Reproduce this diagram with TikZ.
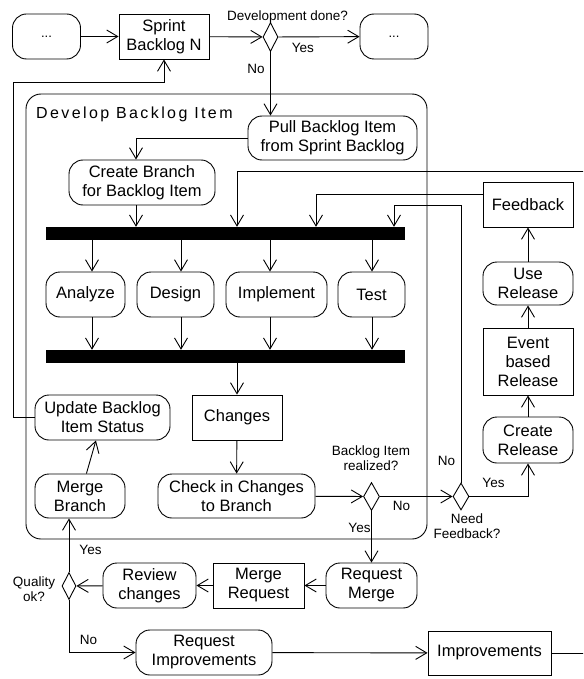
\documentclass[tikz,border=0pt]{standalone}
\usepackage{fontspec}
\setmainfont{Liberation Sans}
\newfontfamily\titlefont[LetterSpace=15]{Liberation Sans}
\usetikzlibrary{arrows.meta,shapes.geometric,calc}

\tikzset{
  box/.style={draw, line width=0.9pt, inner sep=0pt, align=center,
    font=\fontsize{16.5}{19}\selectfont},
  act/.style={box, rounded corners=14pt},
  dec/.style={draw, diamond, inner sep=0pt, line width=0.9pt},
  bar/.style={fill=black, draw=none, inner sep=0pt},
  lbl/.style={inner sep=0pt, align=center, font=\fontsize{13.5}{15}\selectfont},
  arr/.style={line width=0.9pt, -{Straight Barb[length=11pt,width=13pt]}},
}

\begin{document}
\begin{tikzpicture}[x=1pt, y=-1pt]
\useasboundingbox (0,0) rectangle (583,679);
\clip (0,0) rectangle (583,679);

% --- sprint level ---
\node[act, minimum width=68pt, minimum height=45pt] (start) at (46.5,36.5) {\fontsize{13}{15}\selectfont ...};
\node[box, minimum width=90pt, minimum height=45pt] (sprint) at (164,36.5) {Sprint\\Backlog N};
\node[dec, minimum width=15pt, minimum height=29pt] (d1) at (270.5,37) {};
\node[act, minimum width=68pt, minimum height=45pt] (endn) at (394,36.5) {\fontsize{13}{15}\selectfont ...};
\node[lbl] (qdone) at (287.5,17) {Development done?};

% --- backlog item container ---
\draw[line width=0.9pt, rounded corners=15pt] (26,94) rectangle (427,539);
\node[anchor=base west, inner sep=0pt, font=\titlefont\fontsize{16}{19}\selectfont] (title) at (36,119) {Develop Backlog Item};

\node[act, minimum width=169pt, minimum height=44pt] (pull) at (332.5,138) {Pull Backlog Item\\from Sprint Backlog};
\node[act, minimum width=146pt, minimum height=45pt] (cb) at (142,182.5) {Create Branch\\for Backlog Item};
\node[bar, minimum width=359pt, minimum height=13pt] (bar1) at (225.5,233.5) {};

\node[act, minimum width=79pt, minimum height=45pt] (an) at (85.5,294.5) {Analyze};
\node[act, minimum width=77pt, minimum height=45pt] (de) at (175.5,294.5) {Design};
\node[act, minimum width=101pt, minimum height=45pt] (im) at (276.5,294.5) {Implement};
\node[act, minimum width=67pt, minimum height=45pt] (te) at (371.5,294.5) {Test};

\node[bar, minimum width=359pt, minimum height=13pt] (bar2) at (225.5,356.5) {};

\node[act, minimum width=135pt, minimum height=45pt] (upd) at (102.5,417.5) {Update Backlog\\Item Status};
\node[box, minimum width=90pt, minimum height=45pt] (ch) at (237,417.5) {Changes};
\node[act, minimum width=90pt, minimum height=44pt] (mb) at (80,496) {Merge\\Branch};
\node[act, minimum width=157pt, minimum height=44pt] (ci) at (236.5,496) {Check in Changes\\to Branch};
\node[dec, minimum width=16pt, minimum height=28pt] (d2) at (371.5,496.5) {};
\node[lbl] (qreal) at (371,458) {Backlog Item\\realized?};

% --- release / feedback column ---
\node[dec, minimum width=16pt, minimum height=27pt] (d3) at (461,496.5) {};
\node[lbl] (qfb) at (467,526) {Need\\Feedback?};
\node[act, minimum width=90pt, minimum height=46pt] (cr) at (528,440) {Create\\Release};
\node[box, minimum width=90pt, minimum height=67pt] (eb) at (528,361.5) {Event\\based\\Release};
\node[act, minimum width=90pt, minimum height=43pt] (ur) at (528,283.5) {Use\\Release};
\node[box, minimum width=90pt, minimum height=45pt] (fb) at (528,204.5) {Feedback};

% --- review ---
\node[act, minimum width=91pt, minimum height=45pt] (rm) at (371.5,585.5) {Request\\Merge};
\node[box, minimum width=91pt, minimum height=45pt] (mr) at (258.5,585.5) {Merge\\Request};
\node[act, minimum width=93pt, minimum height=45pt] (rc) at (149.5,585.5) {Review\\changes};
\node[dec, minimum width=14pt, minimum height=27pt] (d4) at (69,586) {};
\node[lbl] (qok) at (34,589) {Quality\\ok?};
\node[act, minimum width=136pt, minimum height=45pt] (ri) at (204,652.5) {Request\\Improvements};
\node[box, minimum width=123pt, minimum height=44pt] (imp) at (489.5,653) {Improvements};

% --- guide coordinates for connector routing ---
\coordinate (xcb) at (136,0);
\coordinate (xtop) at (237,0);
\coordinate (xfb) at (316,0);
\coordinate (nfk) at (394,205);
\coordinate (xa) at (92,0);
\coordinate (xd) at (181,0);
\coordinate (xi) at (270,0);
\coordinate (xt) at (372,0);
\coordinate (loopL) at (13,82);
\coordinate (farR) at (596,171);

% --- connectors ---
\draw[arr] (start) -- (sprint);
\draw[arr] (sprint) -- (d1);
\draw[arr] (d1) -- (endn) node[lbl, pos=0.3, below=6pt] (yes1) {Yes};
\draw[arr] (d1.south) -- (d1.south |- pull.north);
\node[lbl] (no1) at (256,69) {No};

\draw[arr] (pull.west) -| (cb.north -| xcb);
\draw[arr] (cb.south -| xcb) -- (bar1.north -| xcb);
\draw[arr] (imp.east) -| (farR) -| (bar1.north -| xtop);
\draw[arr] ([yshift=10.5pt]fb.west) -| (bar1.north -| xfb);
\draw[arr] (d3.north) |- (nfk) -- (bar1.north -| nfk);
\node[lbl] (no3) at (446.5,461) {No};

\foreach \n/\c in {an/xa, de/xd, im/xi, te/xt}{
  \draw[arr] (bar1.south -| \c) -- (\n.north -| \c);
  \draw[arr] (\n.south -| \c) -- (bar2.north -| \c);
}

\draw[arr] (bar2.south -| ch.north) -- (ch.north);
\draw[arr] (ch) -- (ci);
\draw[arr] (ci) -- (d2);
\draw[arr] (d2) -- (d3);
\node[lbl] (no2) at (401.5,506) {No};
\draw[arr] (d3.east) -| (cr.south);
\node[lbl] (yes3) at (493.5,482.5) {Yes};
\draw[arr] (cr) -- (eb);
\draw[arr] (eb) -- (ur);
\draw[arr] (ur) -- (fb);

\draw[arr] (d2.south) -- (d2.south |- rm.north);
\node[lbl] (yes2) at (359.5,528) {Yes};
\draw[arr] (rm) -- (mr);
\draw[arr] (mr) -- (rc);
\draw[arr] (rc) -- (d4);
\draw[arr] (d4.north) -- (d4.north |- mb.south);
\node[lbl] (yes4) at (90.5,549.5) {Yes};
\draw[arr] (d4.south) |- (ri.west);
\node[lbl] (no4) at (88.5,640) {No};
\draw[arr] (ri) -- (imp);

\draw[arr] (mb) -- (upd);
\draw[arr] (upd.west) -| (loopL) -| (sprint.south);
\end{tikzpicture}
\end{document}
